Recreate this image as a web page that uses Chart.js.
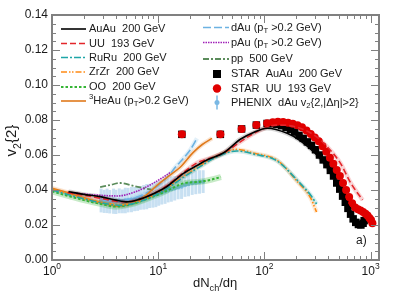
<!DOCTYPE html>
<html>
<head>
<meta charset="utf-8">
<script src="https://cdn.jsdelivr.net/npm/chart.js@4.4.1/dist/chart.umd.min.js"></script>
<style>
  html, body { margin: 0; padding: 0; background: #fff; }
</style>
</head>
<body>
<canvas id="v2chart" width="399" height="299"></canvas>
<script>
// model curves, [dNch/deta, v2{2}]
const auauModel = [[1.43,0.0390],[2.0,0.0375],[2.84,0.0362],[4.0,0.0342],[5.0,0.0332],[6.5,0.0345],[8.4,0.0370],[12.1,0.0420],[17.3,0.0495],[23.2,0.0540],[28.8,0.0571],[41.4,0.0613],[59.4,0.0690],[80,0.0730],[106,0.0753],[164,0.0724],[220,0.0680],[300,0.0610],[400,0.0520],[500,0.0420],[580,0.0340],[650,0.0290]];
const uuModel = [[1.4,0.0385],[2.0,0.0370],[3.0,0.0350],[4.5,0.0333],[6.0,0.0338],[8.4,0.0370],[12.1,0.0425],[17.3,0.0500],[23.2,0.0555],[30,0.0580],[41.4,0.0613],[59.4,0.0675],[80,0.0725],[132,0.0771],[200,0.0760],[300,0.0710],[400,0.0640],[521,0.0552],[650,0.0440],[840,0.0343]];
const ruruModel = [[1,0.0400],[1.5,0.0370],[2,0.0350],[3,0.0325],[4.5,0.0312],[6,0.0325],[8,0.0352],[10,0.0380],[12.9,0.0419],[18,0.0480],[25,0.0535],[35.9,0.0590],[55,0.0623],[80,0.0605],[132,0.0566],[203,0.0457],[272,0.0371],[310,0.0320]];
const zrzrModel = [[1,0.0405],[1.5,0.0375],[2,0.0352],[3,0.0328],[4.5,0.0315],[6,0.0328],[8,0.0356],[10,0.0385],[12.9,0.0425],[18,0.0485],[25,0.0540],[35.9,0.0595],[55,0.0632],[80,0.0610],[132,0.0570],[203,0.0450],[272,0.0355],[310,0.0274]];
const ooModel = [[1,0.0392],[1.5,0.0362],[2,0.0342],[3,0.0318],[4,0.0305],[5.5,0.0318],[7.5,0.0345],[9.7,0.0371],[13,0.0405],[17.3,0.0438],[24.9,0.0447],[32,0.0460],[39,0.0474]];
const heauModel = [[1,0.0410],[1.5,0.0380],[2,0.0355],[3,0.0325],[4.2,0.0308],[5.5,0.0320],[7,0.0350],[9.7,0.0425],[13,0.0486],[16.1,0.0530],[21.4,0.0615],[26,0.0660],[32.1,0.0695]];
const dauModel = [[3,0.0340],[4,0.0338],[5.2,0.0345],[7,0.0370],[9,0.0405],[12,0.0470],[15,0.0540],[17.5,0.0585],[20,0.0629],[23.2,0.0695]];
const pauModel = [[1.45,0.0385],[2.5,0.0372],[4.1,0.0366],[6,0.0388],[8.4,0.0429],[11.6,0.0480],[13,0.0500]];
const ppModel = [[2.84,0.0417],[3.5,0.0428],[4.4,0.0440],[6,0.0422],[7.9,0.0406],[9,0.0400]];

// measurements
const starAuAu = [[16.7,0.0718],[38.5,0.0718],[61,0.0749],[84,0.0771],[106,0.0780],[118,0.0779],[131,0.0775],[145,0.0768],[160,0.0758],[176,0.0746],[193,0.0731],[212,0.0712],[232,0.0695],[254,0.0675],[278,0.0655],[303,0.0630],[330,0.0600],[358,0.0572],[388,0.0545],[418,0.0512],[448,0.0480],[480,0.0440],[512,0.0405],[545,0.0365],[578,0.0330],[612,0.0295],[648,0.0262],[685,0.0235],[725,0.0215],[768,0.0203],[810,0.0200],[850,0.0210],[870,0.0225]];
const starUU = [[16.7,0.0718],[38.5,0.0718],[61,0.0749],[84,0.0771],[106,0.0782],[120,0.0787],[134,0.0790],[150,0.0788],[167,0.0784],[185,0.0778],[205,0.0770],[226,0.0758],[249,0.0740],[273,0.0720],[298,0.0700],[325,0.0678],[353,0.0650],[383,0.0618],[414,0.0585],[446,0.0550],[480,0.0515],[514,0.0480],[550,0.0440],[588,0.0400],[628,0.0360],[670,0.0325],[715,0.0300],[760,0.0290],[805,0.0283],[850,0.0275],[895,0.0265],[935,0.0255],[975,0.0240],[1010,0.0228],[1040,0.0210]];
const phenixX = [2.9,3.1,3.3,3.5,3.8,4.0,4.3,4.6,4.9,5.2,5.6,6.0,6.4,6.8,7.3,7.8,8.3,8.9,9.5,10.1,10.8,11.6,12.4,13.3,14.3,15.4,16.6,17.9,19.3,20.9,22.6,24.5,26.5];
const phenixY = [0.0340,0.0335,0.0338,0.0333,0.0336,0.0332,0.0338,0.0335,0.0340,0.0342,0.0345,0.0348,0.0352,0.0355,0.0358,0.0362,0.0366,0.0370,0.0375,0.0380,0.0385,0.0392,0.0398,0.0405,0.0410,0.0415,0.0420,0.0428,0.0434,0.0440,0.0442,0.0446,0.0448];
const phenixSys = [0.0068,0.0066,0.0070,0.0067,0.0072,0.0069,0.0071,0.0068,0.0073,0.0070,0.0072,0.0069,0.0071,0.0068,0.0070,0.0072,0.0069,0.0071,0.0073,0.0070,0.0068,0.0071,0.0069,0.0072,0.0070,0.0068,0.0071,0.0067,0.0070,0.0068,0.0066,0.0067,0.0065];

// axes
const xTickValues = [1, 10, 100, 1000];
const xTickExponents = ['0', '1', '2', '3'];
const yTickValues = [0, 0.02, 0.04, 0.06, 0.08, 0.10, 0.12, 0.14];
const yTickLabels = ['0.00', '0.02', '0.04', '0.06', '0.08', '0.10', '0.12', '0.14'];

const FONT = '"Liberation Sans", Arial, sans-serif';
const NARROW = '"Liberation Sans Narrow", "Liberation Sans", sans-serif';

const models = [
    { key: 'AuAu', data: auauModel, color: '#000000', dash: [], width: 1.6, band: 'rgba(0,0,0,0.16)' },
    { key: 'UU', data: uuModel, color: '#e3262b', dash: [6, 3], width: 1.6, band: 'rgba(227,38,43,0.2)' },
    { key: 'RuRu', data: ruruModel, color: '#1fa6a8', dash: [7, 2, 2, 2], width: 1.6, band: 'rgba(31,166,168,0.18)' },
    { key: 'ZrZr', data: zrzrModel, color: '#ff8a14', dash: [6, 2, 1.5, 1.5, 1.5, 2], width: 1.6, band: 'rgba(255,138,20,0.18)' },
    { key: 'OO', data: ooModel, color: '#35b535', dash: [2.5, 2], width: 2, band: 'rgba(53,181,53,0.28)' },
    { key: 'HeAu', data: heauModel, color: '#e07a1c', dash: [], width: 1.6, band: 'rgba(224,122,28,0.2)' },
    { key: 'dAu', data: dauModel, color: '#6cb2e2', dash: [8, 3], width: 1.6, band: 'rgba(108,178,226,0.2)' },
    { key: 'pAu', data: pauModel, color: '#a020b8', dash: [1.5, 1], width: 1.6, band: null },
    { key: 'pp', data: ppModel, color: '#5b8c5b', dash: [6, 2, 2, 2], width: 1.8, band: null }
];

function toPts(arr) {
    return arr.map(p => ({ x: p[0], y: p[1] }));
}

const datasets = [];
models.forEach(m => {
    datasets.push({
        label: m.key, data: toPts(m.data), showLine: true, borderColor: m.color, borderDash: m.dash,
        borderWidth: m.width, pointRadius: 0, cubicInterpolationMode: 'monotone', order: 2
    });
    if (m.band) {
        datasets.push({
            label: m.key + ' band', data: toPts(m.data), showLine: true, borderColor: m.band,
            borderWidth: m.key === 'OO' ? 6 : 4.5, pointRadius: 0, cubicInterpolationMode: 'monotone', order: 5
        });
    }
});
datasets.push({
    label: 'STAR UU 193 GeV', data: toPts(starUU), showLine: false, pointStyle: 'circle',
    pointRadius: 4, backgroundColor: '#e00000', borderColor: '#e00000', borderWidth: 0, order: 3
});
datasets.push({
    label: 'STAR AuAu 200 GeV', data: toPts(starAuAu), showLine: false, pointStyle: 'rect',
    pointRadius: 5.3, backgroundColor: '#000000', borderColor: '#000000', borderWidth: 0, order: 4
});
datasets.push({
    label: 'PHENIX dAu', data: phenixX.map((x, i) => ({ x: x, y: phenixY[i] })), showLine: false,
    pointStyle: 'circle', pointRadius: 2.2, backgroundColor: '#7ab8e4', borderWidth: 0, order: 6
});

// text with sub/superscripts
function drawRich(ctx, parts, x, y, size, family) {
    let cx = x;
    parts.forEach(p => {
        const s = (p.sub || p.sup) ? size * 0.7 : size;
        ctx.font = s + 'px ' + family;
        const dy = p.sub ? size * 0.3 : (p.sup ? -size * 0.38 : 0);
        ctx.fillText(p.t, cx, y + dy);
        cx += ctx.measureText(p.t).width;
    });
    return cx - x;
}

function styleOf(key) {
    return models.find(m => m.key === key);
}

const legendCol1 = [
    { key: 'AuAu', y: 29, parts: [{ t: 'AuAu  200 GeV' }] },
    { key: 'UU', y: 43.5, parts: [{ t: 'UU  193 GeV' }] },
    { key: 'RuRu', y: 57.5, parts: [{ t: 'RuRu  200 GeV' }] },
    { key: 'ZrZr', y: 72, parts: [{ t: 'ZrZr  200 GeV' }] },
    { key: 'OO', y: 87, parts: [{ t: 'OO  200 GeV' }] },
    { key: 'HeAu', y: 101, parts: [{ t: '3', sup: true }, { t: 'HeAu (p' }, { t: 'T', sub: true }, { t: '>0.2 GeV)' }] }
];
const legendCol2 = [
    { key: 'dAu', y: 27.5, parts: [{ t: 'dAu (p' }, { t: 'T', sub: true }, { t: ' >0.2 GeV)' }] },
    { key: 'pAu', y: 42.5, parts: [{ t: 'pAu (p' }, { t: 'T', sub: true }, { t: ' >0.2 GeV)' }] },
    { key: 'pp', y: 59, parts: [{ t: 'pp  500 GeV' }] },
    { marker: 'square', y: 74, parts: [{ t: 'STAR  AuAu  200 GeV' }] },
    { marker: 'circle', y: 88.5, parts: [{ t: 'STAR  UU  193 GeV' }] },
    { marker: 'phenix', y: 102.5, parts: [{ t: 'PHENIX  dAu v' }, { t: '2', sub: true }, { t: '{2,|Δη|>2}' }] }
];

const decorPlugin = {
    id: 'decor',
    beforeDatasetsDraw(chart) {
        const ctx = chart.ctx, xs = chart.scales.x, ys = chart.scales.y, a = chart.chartArea;
        ctx.save();
        ctx.beginPath();
        ctx.rect(a.left, a.top, a.right - a.left, a.bottom - a.top);
        ctx.clip();
        ctx.fillStyle = '#c8e0f2';
        phenixX.forEach((x, i) => {
            const px = xs.getPixelForValue(x);
            const y1 = ys.getPixelForValue(phenixY[i] + phenixSys[i]);
            const y2 = ys.getPixelForValue(phenixY[i] - phenixSys[i]);
            ctx.fillRect(px - 1.5, y1, 3, y2 - y1);
        });
        ctx.restore();
    },
    afterDatasetsDraw(chart) {
        const ctx = chart.ctx, xs = chart.scales.x, ys = chart.scales.y, a = chart.chartArea;
        ctx.save();
        ctx.strokeStyle = '#808080';

        // ticks, inward on all four sides
        ctx.lineWidth = 1;
        ctx.beginPath();
        for (let d = 0; d < 4; d++) {
            for (let m = 1; m <= 9; m++) {
                const v = m * Math.pow(10, d);
                if (v > xs.max) break;
                const px = Math.round(xs.getPixelForValue(v)) + 0.5;
                const len = m === 1 ? 8 : 4;
                ctx.moveTo(px, a.bottom); ctx.lineTo(px, a.bottom - len);
                ctx.moveTo(px, a.top); ctx.lineTo(px, a.top + len);
            }
        }
        for (let i = 0; i <= 28; i++) {
            const py = Math.round(ys.getPixelForValue(i * 0.005)) + 0.5;
            const len = i % 4 === 0 ? 8 : 4;
            ctx.moveTo(a.left, py); ctx.lineTo(a.left + len, py);
            ctx.moveTo(a.right, py); ctx.lineTo(a.right - len, py);
        }
        ctx.stroke();

        // frame
        ctx.lineWidth = 2;
        ctx.strokeRect(a.left, a.top, a.right - a.left, a.bottom - a.top);

        // tick labels
        ctx.fillStyle = '#1a1a1a';
        ctx.font = '12px ' + FONT;
        ctx.textAlign = 'right';
        ctx.textBaseline = 'middle';
        yTickValues.forEach((v, i) => {
            ctx.fillText(yTickLabels[i], a.left - 4, ys.getPixelForValue(v));
        });
        ctx.textAlign = 'left';
        ctx.textBaseline = 'alphabetic';
        xTickValues.forEach((v, i) => {
            const px = xs.getPixelForValue(v);
            ctx.font = '12px ' + FONT;
            const w1 = ctx.measureText('10').width;
            ctx.font = '8.5px ' + FONT;
            const w2 = ctx.measureText(xTickExponents[i]).width;
            const x0 = px - (w1 + w2) / 2;
            ctx.font = '12px ' + FONT;
            ctx.fillText('10', x0, 275);
            ctx.font = '8.5px ' + FONT;
            ctx.fillText(xTickExponents[i], x0 + w1, 269);
        });

        // axis titles
        drawRich(ctx, [{ t: 'dN' }, { t: 'ch', sub: true }, { t: '/dη' }], 193, 287, 13, FONT);
        ctx.save();
        ctx.translate(16, 140);
        ctx.rotate(-Math.PI / 2);
        ctx.font = '15px ' + FONT;
        const tw = ctx.measureText('v{2}').width + 7;
        drawRich(ctx, [{ t: 'v' }, { t: '2', sub: true }, { t: '{2}' }], -tw / 2, 0, 15, FONT);
        ctx.restore();

        ctx.font = '12px ' + FONT;
        ctx.fillText('a)', 356, 244);

        // legend
        ctx.textBaseline = 'middle';
        const drawSample = (key, x1, x2, y) => {
            const s = styleOf(key);
            ctx.setLineDash(s.dash);
            ctx.strokeStyle = s.color;
            ctx.lineWidth = s.width;
            ctx.beginPath(); ctx.moveTo(x1, y); ctx.lineTo(x2, y); ctx.stroke();
            ctx.setLineDash([]);
        };
        legendCol1.forEach(e => {
            drawSample(e.key, 61, 86, e.y);
            ctx.fillStyle = '#1a1a1a';
            drawRich(ctx, e.parts, 89, e.y, 11, NARROW);
        });
        legendCol2.forEach(e => {
            if (e.key) {
                drawSample(e.key, 203, 229, e.y);
            } else if (e.marker === 'square') {
                ctx.fillStyle = '#000';
                ctx.fillRect(213, e.y - 4, 8, 8);
            } else if (e.marker === 'circle') {
                ctx.fillStyle = '#e00000';
                ctx.beginPath(); ctx.arc(217, e.y, 4.2, 0, Math.PI * 2); ctx.fill();
            } else {
                ctx.strokeStyle = '#7ab8e4';
                ctx.lineWidth = 1.5;
                ctx.beginPath(); ctx.moveTo(217, e.y - 7); ctx.lineTo(217, e.y + 7); ctx.stroke();
                ctx.fillStyle = '#7ab8e4';
                ctx.beginPath(); ctx.arc(217, e.y, 2.5, 0, Math.PI * 2); ctx.fill();
            }
            ctx.fillStyle = '#1a1a1a';
            drawRich(ctx, e.parts, 231, e.y, 11, NARROW);
        });
        ctx.restore();
    }
};

new Chart(document.getElementById('v2chart'), {
    type: 'scatter',
    data: { datasets: datasets },
    options: {
        responsive: false,
        animation: false,
        devicePixelRatio: 1,
        layout: { padding: { top: 15, right: 20, left: 0, bottom: 0 } },
        plugins: { legend: { display: false }, tooltip: { enabled: false } },
        scales: {
            x: {
                type: 'logarithmic', min: 1, max: 1200,
                ticks: { display: false }, grid: { display: false }, border: { display: false },
                afterFit: s => { s.height = 39; }
            },
            y: {
                type: 'linear', min: 0, max: 0.14,
                ticks: { display: false }, grid: { display: false }, border: { display: false },
                afterFit: s => { s.width = 52; }
            }
        }
    },
    plugins: [decorPlugin]
});
</script>
</body>
</html>
